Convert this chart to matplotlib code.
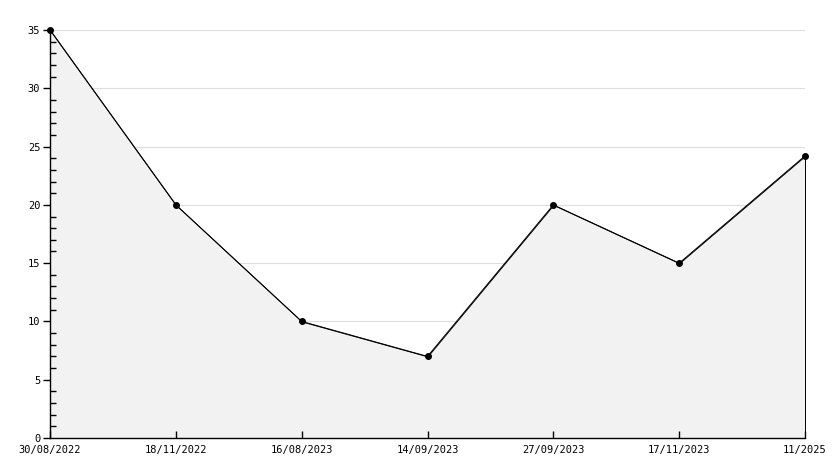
import numpy as np
import matplotlib.pyplot as plt
from matplotlib.ticker import MultipleLocator

dates = ["30/08/2022", "18/11/2022", "16/08/2023", "14/09/2023",
         "27/09/2023", "17/11/2023", "11/2025"]
values = [35, 20, 10, 7, 20, 15, 24.2]

x = np.arange(len(dates))

fig = plt.figure(figsize=(8.34, 4.68), dpi=100)
ax = fig.add_axes([50 / 834, 30 / 468, 755 / 834, 408 / 468])

# grid behind the filled area
for g in range(5, 36, 5):
    ax.axhline(g, color="#dddddd", linewidth=0.8, zorder=0.5)

ax.fill_between(x, values, 0, facecolor="#f2f2f2", edgecolor="black",
                linewidth=0.7, zorder=1)
ax.plot(x, values, color="black", linewidth=0.7, marker="o",
        markersize=4, clip_on=False, zorder=3)

ax.set_xlim(0, len(dates) - 1)
ax.set_ylim(0, 35)
ax.yaxis.set_major_locator(MultipleLocator(5))
ax.yaxis.set_minor_locator(MultipleLocator(1))
ax.set_xticks(x)
ax.set_xticklabels(dates)

for s in ("top", "right"):
    ax.spines[s].set_visible(False)
for s in ("left", "bottom"):
    ax.spines[s].set_linewidth(1.0)

ax.tick_params(axis="y", which="major", direction="out", length=5, width=1,
               pad=2, labelsize=7.5)
ax.tick_params(axis="y", which="minor", direction="in", length=4, width=1)
ax.tick_params(axis="x", which="major", direction="in", length=5, width=1,
               pad=5, labelsize=7.5)
for lab in ax.get_xticklabels() + ax.get_yticklabels():
    lab.set_fontfamily("DejaVu Sans Mono")

fig.savefig("out.png", dpi=100)
